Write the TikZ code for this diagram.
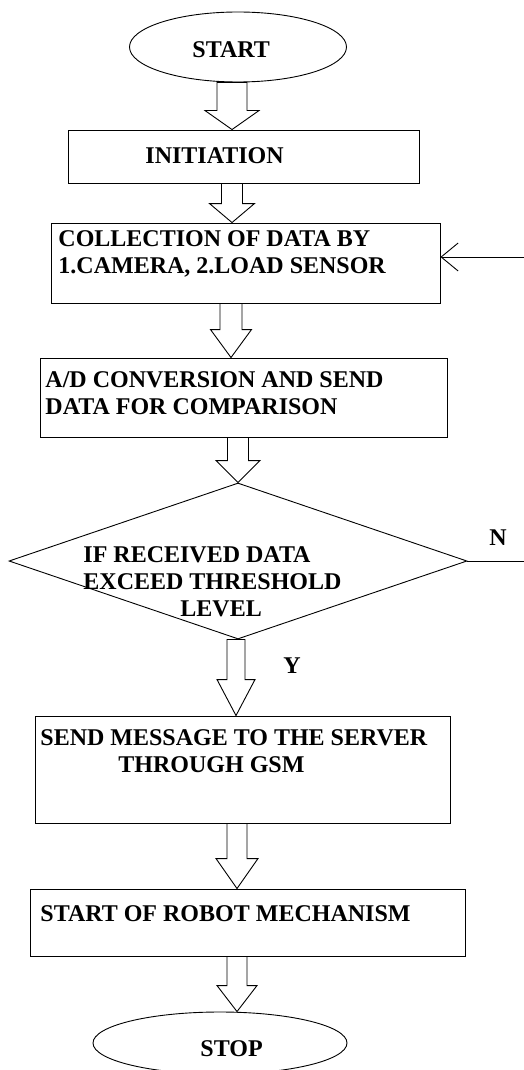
\documentclass[tikz,border=0pt]{standalone}
\usepackage{fontspec}
\setmainfont{Liberation Serif}
\usetikzlibrary{shapes.geometric,calc,arrows.meta}
\newcommand{\fatarrow}[6]{\draw[fat] let \p1=(#1.south), \p2=(#2.north) in
  (#3pt-#4pt,\y1) -- (#3pt-#4pt,\y2+#6pt) -- (#3pt-#5pt,\y2+#6pt) -- (#3pt,\y2)
  -- (#3pt+#5pt,\y2+#6pt) -- (#3pt+#4pt,\y2+#6pt) -- (#3pt+#4pt,\y1) -- cycle;}

\begin{document}
\begin{tikzpicture}[x=1pt, y=-1pt, line width=0.9pt,
  box/.style={draw, rectangle, inner sep=0pt},
  oval/.style={draw, ellipse, inner sep=0pt},
  test/.style={draw, diamond, inner sep=0pt},
  fat/.style={draw},
  txt/.style={font=\fontsize{24}{27}\selectfont\bfseries, inner sep=0pt, align=left, anchor=base west}]
  \useasboundingbox (0,0) rectangle (524,1070);
  \node[oval, minimum width=217pt, minimum height=70pt] (start) at (238,47) {};
  \node[box, minimum width=351pt, minimum height=53pt] (init) at (243.5,156.5) {};
  \node[box, minimum width=389pt, minimum height=80pt] (collect) at (245.5,263) {};
  \node[box, minimum width=407pt, minimum height=79pt] (adc) at (243.5,397.5) {};
  \node[test, minimum width=458pt, minimum height=156pt] (check) at (238,561) {};
  \node[box, minimum width=415pt, minimum height=107pt] (send) at (242.5,769.5) {};
  \node[box, minimum width=435pt, minimum height=67pt] (robot) at (247.5,922.5) {};
  \node[oval, minimum width=254pt, minimum height=62pt] (stop) at (220,1043) {};
  \node[txt] (startT) at (192,58) {START};
  \node[txt] (initT) at (145,163) {INITIATION};
  \node[txt] (collectT) at (58,273) {COLLECTION OF DATA BY\\1.CAMERA, 2.LOAD SENSOR};
  \node[txt] (adcT) at (45,414) {A/D CONVERSION AND SEND\\DATA FOR COMPARISON};
  \node[txt] (checkT) at (83,616) {IF RECEIVED DATA\\EXCEED THRESHOLD\\\hspace*{97pt}LEVEL};
  \node[txt] (sendT) at (40,772) {SEND MESSAGE TO THE SERVER\\\hspace*{78pt}THROUGH GSM};
  \node[txt] (robotT) at (40,921) {START OF ROBOT MECHANISM};
  \node[txt] (stopT) at (200,1056) {STOP};
  \node[txt, anchor=base] (no) at (498,545) {N};
  \node[txt, anchor=base] (yes) at (292,673) {Y};
  \fatarrow{start}{init}{232}{15}{27}{19}
  \fatarrow{init}{collect}{232}{10.5}{22.5}{19}
  \fatarrow{collect}{adc}{231}{11}{20.5}{28}
  \fatarrow{adc}{check}{238}{10.5}{22}{22}
  \fatarrow{check}{send}{236}{9}{19}{36}
  \fatarrow{send}{robot}{237}{10}{21}{30}
  \fatarrow{robot}{stop}{237}{10}{20}{26}
  \coordinate (back) at (524,257);
  \coordinate (noEnd) at (524,561);
  \draw[-{Straight Barb[length=17pt,width=28pt]}] (back) -- (collect.east |- back);
  \draw (check.east) -- (noEnd);
\end{tikzpicture}
\end{document}
